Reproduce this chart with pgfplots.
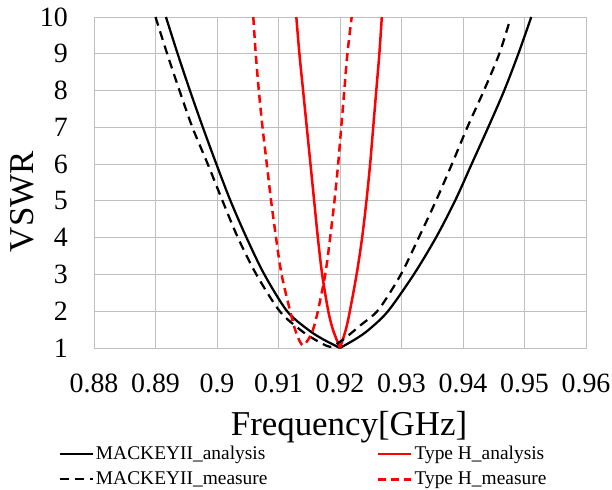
\documentclass[border=0pt]{standalone}
\usepackage{fontspec}
\setmainfont{Liberation Serif}
\usepackage{pgfplots}
\pgfplotsset{compat=1.18}
\definecolor{gridgray}{RGB}{191,191,191}
\definecolor{myred}{RGB}{255,0,0}
\begin{document}
\begin{tikzpicture}
\path[use as bounding box] (-94bp,-142bp) rectangle (518bp,348bp);
\begin{axis}[
  at={(0,0)}, anchor=south west,
  scale only axis, width=492bp, height=331bp,
  xmin=0.88, xmax=0.96, ymin=1, ymax=10,
  xtick={0.88,0.89,0.90,0.91,0.92,0.93,0.94,0.95,0.96},
  ytick={1,2,3,4,5,6,7,8,9,10},
  grid=major,
  major grid style={draw=gridgray, line width=0.9bp},
  axis line style={draw=gridgray, line width=0.9bp},
  tick style={draw=none},
  /pgf/number format/assume math mode=true,
  xticklabel={\pgfmathprintnumber[fixed,precision=2]{\tick}},
  yticklabel={\pgfmathprintnumber[fixed,precision=0]{\tick}},
  xticklabel style={font=\fontsize{28}{28}\selectfont, anchor=base, inner sep=0pt, yshift=-44bp},
  yticklabel style={font=\fontsize{28}{28}\selectfont, anchor=east, inner sep=0pt, xshift=-26bp},
  xlabel={Frequency[GHz]},
  xlabel style={at={([xshift=9bp,yshift=-87bp]axis description cs:0.5,0)}, anchor=base,
    font=\fontsize{35}{35}\selectfont, inner sep=0pt},
  ylabel={VSWR},
  ylabel style={at={([xshift=-60.7bp]axis description cs:0,0.442)}, anchor=base,
    font=\fontsize{35}{35}\selectfont, inner sep=0pt},
  legend columns=2,
  legend style={at={(axis description cs:-0.0722,-0.290)}, anchor=north west,
    draw=none, fill=none, inner sep=0pt, outer sep=0pt,
    font=\fontsize{19.5}{19.5}\selectfont,
    column sep=1bp, row sep=4.5bp,
    /tikz/every even column/.append style={column sep=108bp},
    nodes={inner sep=1.25bp, text height=14bp, text depth=4.5bp},
    cells={anchor=base west}},
  legend image code/.code={\path[draw=none,fill=none] (0bp,-4.5bp) rectangle (33bp,14bp); \draw[#1] (0bp,5.4bp) -- (33bp,5.4bp);},
]
% MACKEYII_analysis
\addplot[black, line width=2.25bp, line join=round, smooth, tension=0.5] coordinates {
(0.8917,10) (0.8936,9) (0.8956,8) (0.8977,7) (0.8999,6) (0.9022,5) (0.9048,4)
(0.9077,3) (0.9114,2) (0.9148,1.5) (0.9171,1.25) (0.9200,1.0)};
\addlegendentry{MACKEYII\_analysis}
\addplot[black, line width=2.25bp, line join=round, smooth, tension=0.5, forget plot] coordinates {
(0.9200,1.0) (0.9226,1.25) (0.9247,1.5) (0.9278,2) (0.9320,3) (0.9356,4) (0.9387,5)
(0.9414,6) (0.9441,7) (0.9467,8) (0.9490,9) (0.9511,10)};
% Type H_analysis
\addplot[myred, line width=2.5bp, line join=round, smooth, tension=0.5] coordinates {
(0.9129,10) (0.9134,9) (0.9140,8) (0.9146,7) (0.9152,6) (0.9158,5) (0.9164,4)
(0.9171,3) (0.9181,2) (0.91885,1.5) (0.9200,1.0)};
\addlegendentry{Type H\_analysis}
\addplot[myred, line width=2.5bp, line join=round, smooth, tension=0.5, forget plot] coordinates {
(0.9200,1.0) (0.92095,1.5) (0.9216,2) (0.9227,3) (0.9236,4) (0.9243,5) (0.9249,6)
(0.9254,7) (0.9259,8) (0.9264,9) (0.9268,10)};
% MACKEYII_measure
\addplot[black, line width=2.25bp, dash pattern=on 9bp off 6bp, line join=round, smooth, tension=0.5] coordinates {
(0.8900,10) (0.8919,9) (0.8939,8) (0.8960,7) (0.8985,6) (0.9009,5) (0.9034,4)
(0.9064,3) (0.9102,2) (0.9135,1.5) (0.9157,1.25) (0.9184,1.03)
(0.9200,1.17) (0.9212,1.32) (0.9235,1.64) (0.9263,2.05) (0.9299,3) (0.9328,4)
(0.9356,5) (0.9382,6) (0.9407,7) (0.9434,8) (0.9459,9) (0.9476,9.9)};
\addlegendentry{MACKEYII\_measure}
% Type H_measure
\addplot[myred, line width=2.5bp, dash pattern=on 8bp off 5bp, line join=round, smooth, tension=0.5] coordinates {
(0.9059,10) (0.9063,9) (0.9068,8) (0.9074,7) (0.9081,6) (0.9088,5) (0.9096,4)
(0.9105,3) (0.9119,2) (0.9127,1.5) (0.9134,1.2) (0.9140,1.07)
(0.9148,1.22) (0.9156,1.49) (0.9164,2) (0.9176,3) (0.9184,4) (0.9191,5)
(0.9197,6) (0.9202,7) (0.9207,8) (0.9212,9) (0.9219,10)};
\addlegendentry{Type H\_measure}
\end{axis}
\end{tikzpicture}
\end{document}
